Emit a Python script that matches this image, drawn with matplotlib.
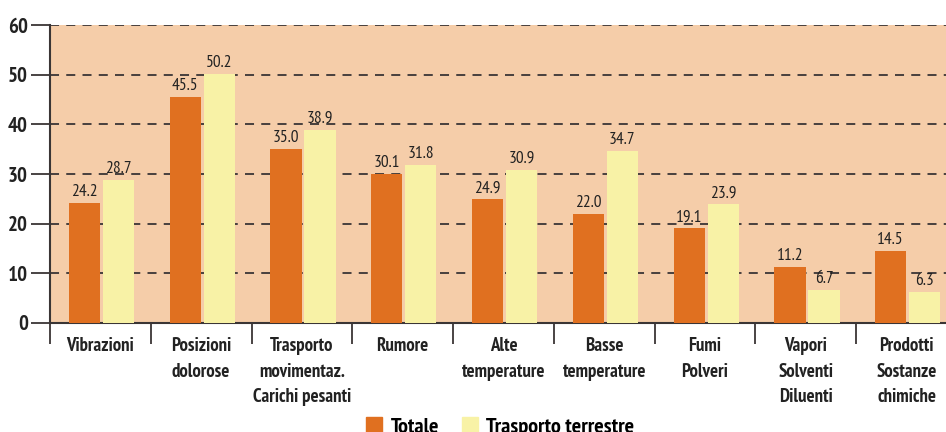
import numpy as np
import matplotlib.pyplot as plt
from matplotlib.patches import Patch

plt.rcParams['font.family'] = ['PT Sans Narrow', 'DejaVu Sans']

categories = ["Vibrazioni", "Posizioni\ndolorose", "Trasporto\nmovimentaz.\nCarichi pesanti",
              "Rumore", "Alte\ntemperature", "Basse\ntemperature", "Fumi\nPolveri",
              "Vapori\nSolventi\nDiluenti", "Prodotti\nSostanze\nchimiche"]
totale = [24.2, 45.5, 35.0, 30.1, 24.9, 22.0, 19.1, 11.2, 14.5]
terrestre = [28.7, 50.2, 38.9, 31.8, 30.9, 34.7, 23.9, 6.7, 6.3]

c_tot = '#E07020'
c_ter = '#F8F2A6'
bg = '#F5CDA9'
dark = '#3a3535'

fig = plt.figure(figsize=(9.46, 4.32), dpi=100)
# plot area runs past the right edge of the image
ax = fig.add_axes([50/946, 1 - 323/432, 907/946, 298/432])
ax.set_facecolor(bg)

x = np.arange(len(categories)) + 0.5
w = 0.31
b1 = ax.bar(x - 0.158, totale, w, color=c_tot, zorder=3)
b2 = ax.bar(x + 0.18, terrestre, w, color=c_ter, zorder=3)

for bars, vals in ((b1, totale), (b2, terrestre)):
    for r, v in zip(bars, vals):
        ax.text(r.get_x() + r.get_width() / 2, v + 0.6, f"{v:.1f}",
                ha='center', va='bottom', fontsize=12.5, color='#222222', zorder=4)

ax.set_xlim(0, len(categories))
ax.set_ylim(0, 60)
ax.set_yticks(range(0, 61, 10))
ax.set_yticklabels([str(v) for v in range(0, 61, 10)], fontsize=15, fontweight='bold', color='#222222')
for y in range(10, 61, 10):
    ax.axhline(y, color=dark, lw=1.3, ls=(0, (5, 4)), zorder=2)

ax.set_xticks(np.arange(len(categories) + 1))
ax.set_xticklabels([])
ax.set_xticks(x, minor=True)
ax.set_xticklabels(categories, minor=True, fontsize=13.5, fontweight='bold',
                   color='#222222', linespacing=1.55)
ax.tick_params(axis='x', which='major', length=15, width=1.3, color=dark, direction='out')
ax.tick_params(axis='x', which='minor', length=0, pad=10)
ax.tick_params(axis='y', length=14, width=1.3, color=dark, pad=2)

for s in ('top', 'right'):
    ax.spines[s].set_visible(False)
for s in ('left', 'bottom'):
    ax.spines[s].set_color(dark)
    ax.spines[s].set_linewidth(1.5)

handles = [Patch(color=c_tot), Patch(color=c_ter)]
fig.legend(handles, ["Totale", "Trasporto terrestre"], ncol=2, frameon=False,
           loc='upper left', bbox_to_anchor=(346/946, 1 - 397/432),
           prop={'size': 16, 'weight': 'bold'}, handlelength=0.72, handleheight=0.72,
           columnspacing=1.0, handletextpad=0.4)

fig.savefig('out.png', dpi=100)
